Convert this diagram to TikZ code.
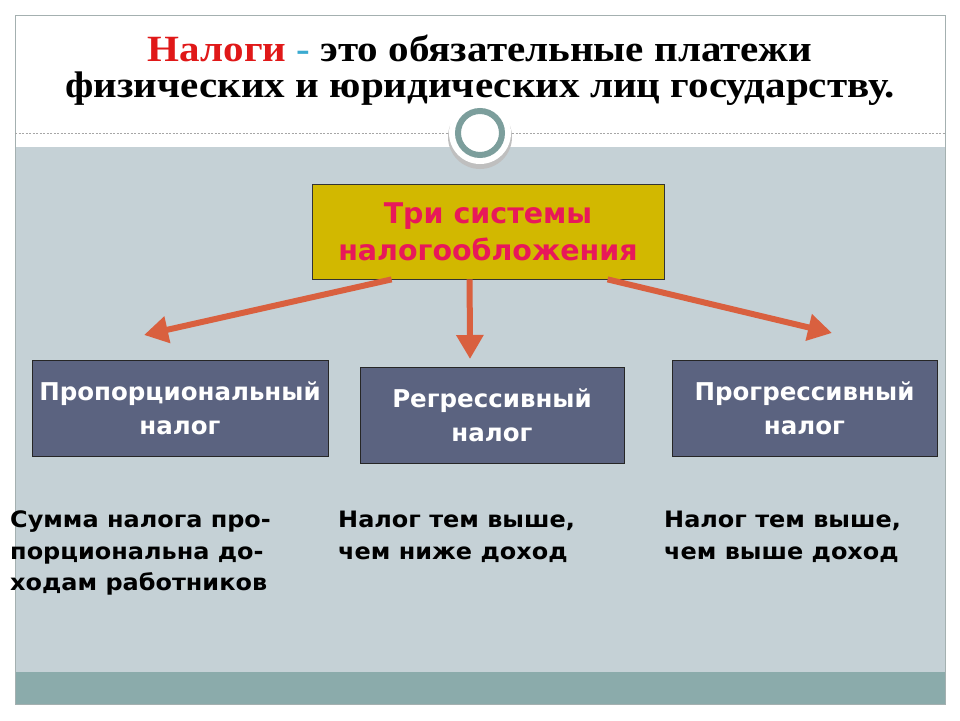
\documentclass[tikz,border=0pt]{standalone}
\usepackage{fontspec}
\setmainfont[FakeStretch=1.11]{Liberation Serif}
\newfontfamily\boxfont{DejaVu Sans}
\newfontfamily\descfont[FakeStretch=1.06]{DejaVu Sans}
\usetikzlibrary{arrows.meta,calc}
\definecolor{bggray}{HTML}{C5D1D6}
\definecolor{stripc}{HTML}{8BABAB}
\definecolor{framec}{HTML}{A4B0B0}
\definecolor{ringc}{HTML}{7C9E9C}
\definecolor{sysfill}{HTML}{D2B800}
\definecolor{syst}{HTML}{E8185A}
\definecolor{slate}{HTML}{5B6380}
\definecolor{arrc}{HTML}{D9603F}
\definecolor{titlered}{HTML}{E01818}
\definecolor{dashc}{HTML}{3AAAD0}
\tikzset{
  sysbox/.style={draw=black!80, line width=0.8pt, fill=sysfill, text=syst, align=center,
    font=\boxfont\bfseries\fontsize{28.5}{37}\selectfont, minimum width=352pt, minimum height=95pt, inner sep=0pt},
  typebox/.style={draw=black!85, line width=0.8pt, fill=slate, text=white, align=center,
    font=\boxfont\bfseries\fontsize{24.5}{34}\selectfont, minimum height=96pt, inner sep=0pt},
  arr/.style={arrc, line width=6pt, -{Triangle[length=24pt,width=26pt]}},
  desc/.style={anchor=north west, align=left, inner sep=0pt,
    font=\descfont\bfseries\fontsize{22.6}{31.5}\selectfont}
}
\begin{document}
\begin{tikzpicture}[x=1pt,y=-1pt]
\useasboundingbox (0,0) rectangle (960,720);
\fill[white] (0,0) rectangle (960,720);
\fill[bggray] (15,147) rectangle (945,672);
\fill[stripc] (15,672) rectangle (945,704);
\draw[framec, line width=1pt] (15,15) rectangle (945,704);
\draw[black!35, line width=0.8pt, dash pattern=on 2pt off 1.5pt] (15,133) -- (945,133);
% ornament circle
\fill[black!25] (480,137) circle (32pt);
\fill[white] (480,133) circle (31pt);
\draw[ringc, line width=6pt] (480,133) circle (22pt);
% title
\node[align=center, font=\bfseries\fontsize{37}{36}\selectfont] (title) at (480,70)
  {\textcolor{titlered}{Налоги} \textcolor{dashc}{-} это обязательные платежи\\
   физических и юридических лиц государству.};
% central box
\node[sysbox] (sys) at (488,231.5) {Три системы\\налогообложения};
% type boxes
\node[typebox, minimum width=296pt] (prop) at (180,408) {Пропорциональный\\налог};
\node[typebox, minimum width=264pt] (regr) at (492,415.5) {Регрессивный\\налог};
\node[typebox, minimum width=265pt] (progr) at (804.5,408) {Прогрессивный\\налог};
% arrows
\coordinate (tipL) at (144,335);
\coordinate (tipM) at (470,359);
\coordinate (tipR) at (832,333);
\draw[arr] ([xshift=80pt]sys.south west) -- (tipL);
\draw[arr] ([xshift=158pt]sys.south west) -- (tipM);
\draw[arr] ([xshift=296pt]sys.south west) -- (tipR);
% descriptions
\node[desc] (d1) at (10,511) {Сумма налога про-\\порциональна до-\\ходам работников};
\node[desc] (d2) at (338,511) {Налог тем выше,\\чем ниже доход};
\node[desc] (d3) at (664,511) {Налог тем выше,\\чем выше доход};
\end{tikzpicture}
\end{document}
